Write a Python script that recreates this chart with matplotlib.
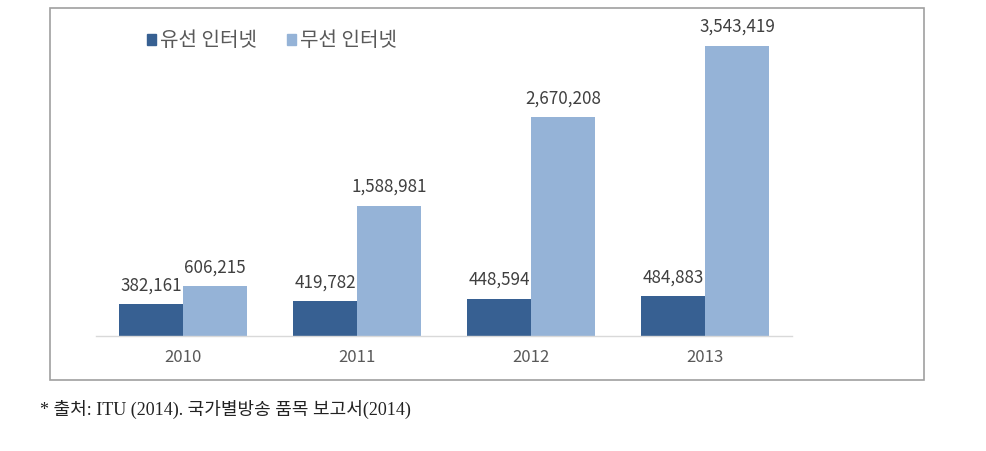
import matplotlib

matplotlib.use("Agg")
import matplotlib.pyplot as plt
from matplotlib.patches import Patch, Rectangle
import numpy as np

plt.rcParams["font.family"] = ["Noto Sans CJK KR", "DejaVu Sans"]

# data
years = ["2010", "2011", "2012", "2013"]
wired = [382161, 419782, 448594, 484883]
wireless = [606215, 1588981, 2670208, 3543419]
series_names = ["유선 인터넷", "무선 인터넷"]
source_note = "* 출처: ITU (2014). 국가별방송 품목 보고서(2014)"

DARK = "#376092"
LIGHT = "#95B3D7"
TEXT = "#404040"

W, H = 986, 451
fig = plt.figure(figsize=(W / 100, H / 100), dpi=100)

# outer frame
fig.patches.append(Rectangle((50 / W, 1 - 380 / H), 874 / W, 372 / H, transform=fig.transFigure,
                             facecolor="none", edgecolor="#a0a0a0", linewidth=1.2, zorder=0))

ax = fig.add_axes([96 / W, 1 - 335.5 / H, 696 / W, 327 / H])
ax.set_facecolor("none")
x = np.arange(len(years))
bw = 0.368
b1 = ax.bar(x - bw / 2, wired, bw, color=DARK, label=series_names[0])
b2 = ax.bar(x + bw / 2, wireless, bw, color=LIGHT, label=series_names[1])

for bars, vals in [(b1, wired), (b2, wireless)]:
    for rect, v in zip(bars, vals):
        ax.annotate(f"{v:,}", (rect.get_x() + rect.get_width() / 2, v), xytext=(0, 7),
                    textcoords="offset points", ha="center", va="bottom", fontsize=12.3, color=TEXT)

ax.set_xlim(-0.5, 3.5)
ax.set_ylim(0, 4000000)
ax.set_yticks([])
ax.set_xticks(x)
ax.set_xticklabels(years, fontsize=12, color="#595959")
ax.tick_params(axis="x", length=0, pad=10)
for s in ["top", "right", "left"]:
    ax.spines[s].set_visible(False)
ax.spines["bottom"].set_color("#d9d9d9")
ax.spines["bottom"].set_linewidth(1.0)

handles = [Patch(color=DARK), Patch(color=LIGHT)]
fig.legend(handles, series_names, loc="center left", bbox_to_anchor=(147 / W, 1 - 41 / H), ncol=2,
           frameon=False, handlelength=0.45, handleheight=0.45, handletextpad=0.2, columnspacing=1.5,
           fontsize=14.5, labelcolor="#595959", borderaxespad=0, borderpad=0)

fig.text(40 / W, 1 - 409 / H, source_note, ha="left", va="center", fontsize=13, color="#222222",
         family=["Liberation Serif", "Noto Sans CJK KR"])

fig.savefig("out.png", dpi=100)
